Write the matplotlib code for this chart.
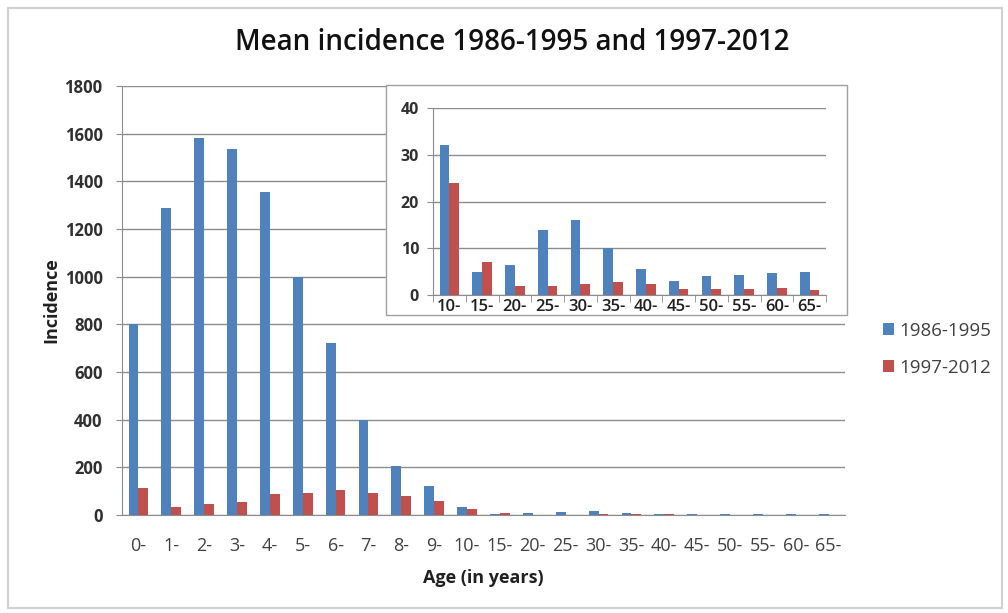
import matplotlib
matplotlib.use("Agg")
import matplotlib.pyplot as plt
from matplotlib.patches import Rectangle
import numpy as np

plt.rcParams['font.family'] = ['Open Sans', 'DejaVu Sans']

age_groups = ["0-", "1-", "2-", "3-", "4-", "5-", "6-", "7-", "8-", "9-", "10-",
              "15-", "20-", "25-", "30-", "35-", "40-", "45-", "50-", "55-", "60-", "65-"]
incidence_1986_1995 = [800, 1290, 1580, 1535, 1355, 1000, 720, 400, 205, 120, 32,
                       5, 6.5, 14, 16, 10, 5.5, 3, 4, 4.3, 4.7, 5]
incidence_1997_2012 = [115, 35, 48, 55, 90, 92, 105, 92, 78, 58, 24,
                       7, 2, 2, 2.3, 2.8, 2.3, 1.2, 1.2, 1.2, 1.5, 1]
series_names = ["1986-1995", "1997-2012"]

# Inset covers the adult age groups, starting from "10-"
inset_start = age_groups.index("10-")

BLUE = "#4F81BD"
RED = "#C0504D"
GRID = "#8C8C8C"
TEXT = "#404040"

W, H = 1008, 613
fig = plt.figure(figsize=(W / 100, H / 100), dpi=100)

# Light outer chart border
fig.patches.append(Rectangle((8 / W, 5 / H), 994 / W, 600 / H, transform=fig.transFigure,
                             fill=False, edgecolor="#D0D0D0", linewidth=1.5))


def fx(px):
    return px / W


def fy(py):
    return 1 - py / H


def draw_bars(ax, labels, a, b, ytick_size, xtick_size, yticks):
    x = np.arange(len(labels))
    w = 0.3
    ax.bar(x - w / 2, a, width=w, color=BLUE, label=series_names[0], zorder=3)
    ax.bar(x + w / 2, b, width=w, color=RED, label=series_names[1], zorder=3)
    ax.set_xlim(-0.5, len(labels) - 0.5)
    ax.set_yticks(yticks)
    ax.set_ylim(yticks[0], yticks[-1])
    ax.yaxis.grid(True, color=GRID, linewidth=1.0, zorder=0)
    for s in ("top", "right"):
        ax.spines[s].set_visible(False)
    ax.spines["left"].set_color(GRID)
    ax.spines["bottom"].set_color(GRID)
    ax.tick_params(axis="y", length=4, color=GRID, labelsize=ytick_size, labelcolor="#303030")
    ax.set_xticks(x)
    ax.set_xticklabels(labels, fontsize=xtick_size, color=TEXT)
    for lab in ax.get_yticklabels():
        lab.set_fontweight("bold")
    return x


# Main chart
ax = fig.add_axes([fx(122), fy(515), fx(845 - 122), (515 - 86) / H])
draw_bars(ax, age_groups, incidence_1986_1995, incidence_1997_2012, 12, 13,
          list(range(0, 1801, 200)))
ax.tick_params(axis="x", length=0, pad=16)
ax.tick_params(axis="y", pad=10)
ax.set_ylabel("Incidence", fontsize=13, fontweight="bold", color="#202020", labelpad=3)
ax.set_xlabel("Age (in years)", fontsize=13, fontweight="bold", color="#202020", labelpad=10)
fig.text(0.508, fy(42), "Mean incidence 1986-1995 and 1997-2012", ha="center", va="center",
         fontsize=20, fontweight="semibold", color="#111111")

# Legend
handles, labels = ax.get_legend_handles_labels()
fig.legend(handles, labels, loc="upper left", bbox_to_anchor=(fx(866), fy(305)),
           frameon=False, fontsize=13.5, handlelength=0.6, handleheight=0.6,
           handletextpad=0.3, labelspacing=1.0, labelcolor=TEXT)

# Inset frame and chart
fig.patches.append(Rectangle((fx(386), fy(315)), fx(847 - 386), (315 - 85) / H,
                             transform=fig.transFigure, facecolor="white",
                             edgecolor="#A0A0A0", linewidth=1.0, zorder=5))
axi = fig.add_axes([fx(433), fy(295), fx(826 - 433), (295 - 108) / H], zorder=6)
axi.patch.set_alpha(0)
draw_bars(axi, age_groups[inset_start:], incidence_1986_1995[inset_start:],
          incidence_1997_2012[inset_start:], 11.5, 12, [0, 10, 20, 30, 40])
for lab in axi.get_xticklabels():
    lab.set_fontweight("semibold")
    lab.set_color("#202020")
n_in = len(age_groups) - inset_start
axi.set_xticks(np.arange(n_in + 1) - 0.5, minor=True)
axi.tick_params(axis="x", which="major", length=0, pad=3)
axi.tick_params(axis="x", which="minor", length=5, color=GRID)
axi.tick_params(axis="y", length=4, pad=6)

fig.savefig("out.png", dpi=100, facecolor="white")
